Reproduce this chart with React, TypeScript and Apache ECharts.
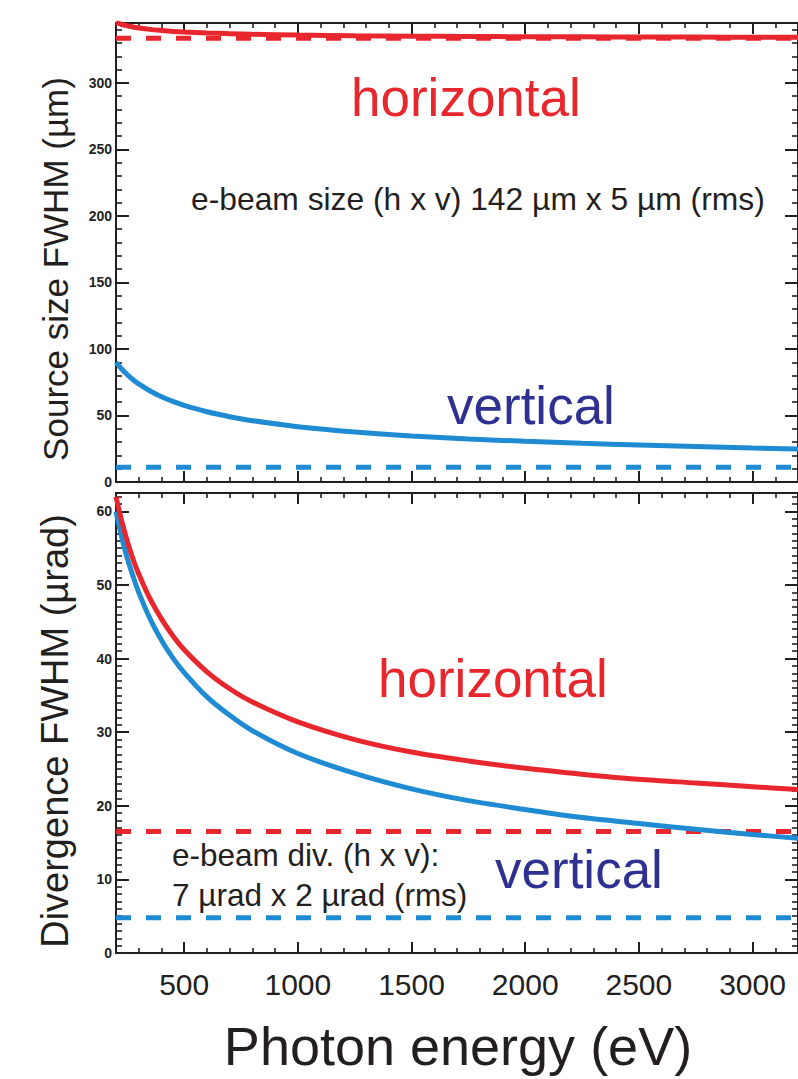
import React, { useEffect, useRef } from "react";
import * as echarts from "echarts";

// ---- data ----
const energy = [200, 225, 250, 275, 300, 350, 400, 450, 500, 600, 700, 800, 1000, 1250, 1500, 1750, 2000, 2250, 2500, 2750, 3000, 3200];
const sourceSizeH = [345.2, 343.9, 342.9, 342.0, 341.3, 340.2, 339.4, 338.7, 338.2, 337.5, 337.0, 336.5, 335.9, 335.4, 335.1, 334.9, 334.7, 334.6, 334.5, 334.4, 334.3, 334.2];
const sourceSizeV = [90.0, 84.9, 80.6, 76.9, 73.7, 68.4, 64.1, 60.6, 57.6, 52.8, 49.1, 46.1, 41.6, 37.6, 34.6, 32.4, 30.6, 29.1, 27.8, 26.6, 25.5, 24.8];
const divergenceH = [62.0, 58.7, 55.9, 53.5, 51.5, 48.1, 45.4, 43.1, 41.2, 38.2, 35.9, 34.1, 31.4, 29.0, 27.3, 26.1, 25.1, 24.3, 23.6, 23.1, 22.6, 22.2];
const divergenceV = [60.0, 56.5, 53.6, 51.2, 49.0, 45.4, 42.5, 40.1, 38.1, 34.8, 32.3, 30.2, 27.1, 24.4, 22.3, 20.7, 19.5, 18.4, 17.6, 16.8, 16.1, 15.6];
const beamSizeH = 333.5;
const beamSizeV = 11;
const beamDivH = 16.5;
const beamDivV = 4.8;

const xMin = 200;
const xMax = 3200;
const xMajorTicks = [500, 1000, 1500, 2000, 2500, 3000];
const sizeMajorTicks = [0, 50, 100, 150, 200, 250, 300];
const divMajorTicks = [0, 10, 20, 30, 40, 50, 60];
const sizeMax = 345;
const divMax = 62.5;

const range = (a: number, b: number, step: number) => {
  const out: number[] = [];
  for (let v = a; v <= b + 1e-9; v += step) out.push(Math.round(v * 10) / 10);
  return out;
};
const xMinorTicks = range(300, 3100, 100).filter((v) => v % 500 !== 0);
const sizeMinorTicks = range(10, 340, 10).filter((v) => v % 50 !== 0);
const divMinorTicks = range(1, 62, 1).filter((v) => v % 10 !== 0);

const RED = "#e8262d";
const BLUE = "#1f8bd2";
const DARKBLUE = "#2e3192";
const INK = "#231f20";
const FONT = "'Liberation Sans', Arial, Helvetica, sans-serif";

export default function App() {
  const ref = useRef<HTMLDivElement>(null);
  useEffect(() => {
    if (!ref.current) return;
    const chart = echarts.init(ref.current, undefined, { renderer: "svg" });

    const xAxes: any[] = [];
    const yAxes: any[] = [];

    const xAxis = (grid: number, position: string, major: boolean, labels: boolean) => ({
      type: "value",
      gridIndex: grid,
      position,
      min: xMin,
      max: xMax,
      axisLine: { show: major, onZero: false, lineStyle: { color: INK, width: 2 } },
      axisTick: {
        show: true,
        inside: true,
        length: major ? 11 : 5,
        customValues: major ? xMajorTicks : xMinorTicks,
        lineStyle: { color: INK, width: major ? 2 : 1.6 },
      },
      axisLabel: {
        show: labels,
        customValues: xMajorTicks,
        formatter: (v: number) => String(v),
        fontSize: 30,
        fontFamily: FONT,
        color: INK,
        margin: 16,
      },
      splitLine: { show: false },
    });

    const yAxis = (grid: number, position: string, major: boolean, labels: boolean, max: number, majors: number[], minors: number[]) => ({
      type: "value",
      gridIndex: grid,
      position,
      min: 0,
      max,
      axisLine: { show: major, onZero: false, lineStyle: { color: INK, width: 2 } },
      axisTick: {
        show: true,
        inside: true,
        length: major ? 13 : 6,
        customValues: major ? majors : minors,
        lineStyle: { color: INK, width: major ? 2 : 1.6 },
      },
      axisLabel: {
        show: labels,
        customValues: majors,
        formatter: (v: number) => String(v),
        fontSize: 14,
        fontWeight: "bold",
        fontFamily: FONT,
        color: INK,
        margin: 4,
      },
      splitLine: { show: false },
    });

    for (let g = 0; g < 2; g++) {
      xAxes.push(xAxis(g, "bottom", true, g === 1));
      xAxes.push(xAxis(g, "bottom", false, false));
      xAxes.push(xAxis(g, "top", true, false));
      xAxes.push(xAxis(g, "top", false, false));
      const max = g === 0 ? sizeMax : divMax;
      const majors = g === 0 ? sizeMajorTicks : divMajorTicks;
      const minors = g === 0 ? sizeMinorTicks : divMinorTicks;
      yAxes.push(yAxis(g, "left", true, true, max, majors, minors));
      yAxes.push(yAxis(g, "left", false, false, max, majors, minors));
      yAxes.push(yAxis(g, "right", true, false, max, majors, minors));
      yAxes.push(yAxis(g, "right", false, false, max, majors, minors));
    }

    const solid = (name: string, g: number, values: number[], color: string) => ({
      name,
      type: "line",
      xAxisIndex: g * 4,
      yAxisIndex: g * 4,
      data: energy.map((e, i) => [e, values[i]]),
      showSymbol: false,
      symbol: "none",
      smooth: 0.3,
      clip: true,
      lineStyle: { color, width: 5 },
      z: 3,
    });
    const dashed = (name: string, g: number, value: number, color: string) => ({
      name,
      type: "line",
      xAxisIndex: g * 4,
      yAxisIndex: g * 4,
      data: [
        [xMin, value],
        [xMax, value],
      ],
      showSymbol: false,
      symbol: "none",
      clip: true,
      lineStyle: { color, width: 5, type: [15, 15], cap: "butt" },
      z: 2,
    });

    const txt = (text: string, x: number, y: number, size: number, fill: string, extra: any = {}) => ({
      type: "text",
      x,
      y,
      z: 10,
      ...extra,
      style: {
        text,
        fontSize: size,
        fontFamily: FONT,
        fill,
        align: extra.align || "left",
        textAlign: extra.align || "left",
        verticalAlign: "middle",
        textVerticalAlign: "middle",
      },
    });

    chart.setOption({
      animation: false,
      backgroundColor: "#ffffff",
      grid: [
        { left: 116, top: 23, width: 685, height: 459 },
        { left: 116, top: 493, width: 685, height: 460 },
      ],
      xAxis: xAxes,
      yAxis: yAxes,
      series: [
        dashed("beam size h", 0, beamSizeH, RED),
        dashed("beam size v", 0, beamSizeV, BLUE),
        solid("source size h", 0, sourceSizeH, RED),
        solid("source size v", 0, sourceSizeV, BLUE),
        dashed("beam div h", 1, beamDivH, RED),
        dashed("beam div v", 1, beamDivV, BLUE),
        solid("divergence v", 1, divergenceV, BLUE),
        solid("divergence h", 1, divergenceH, RED),
      ],
      graphic: [
        txt("horizontal", 351, 97, 53, RED),
        txt("e-beam size (h x v) 142 µm x 5 µm (rms)", 191, 199, 31.8, INK),
        txt("vertical", 447, 405, 53, DARKBLUE),
        txt("horizontal", 378, 678, 53, RED),
        txt("e-beam div. (h x v):", 172, 855, 31.5, INK),
        txt("7 µrad x 2 µrad (rms)", 172, 895, 31.5, INK),
        txt("vertical", 495, 869, 53, DARKBLUE),
        txt("Source size FWHM (µm)", 55, 269, 35, INK, { rotation: Math.PI / 2, align: "center" }),
        txt("Divergence FWHM (µrad)", 55, 731, 38, INK, { rotation: Math.PI / 2, align: "center" }),
        txt("Photon energy (eV)", 458, 1046, 54, INK, { align: "center" }),
      ],
    });
    return () => chart.dispose();
  }, []);
  return (
    <div
      ref={ref}
      style={{ position: "fixed", left: 0, top: 0, width: 798, height: 1079, background: "#fff" }}
    />
  );
}
